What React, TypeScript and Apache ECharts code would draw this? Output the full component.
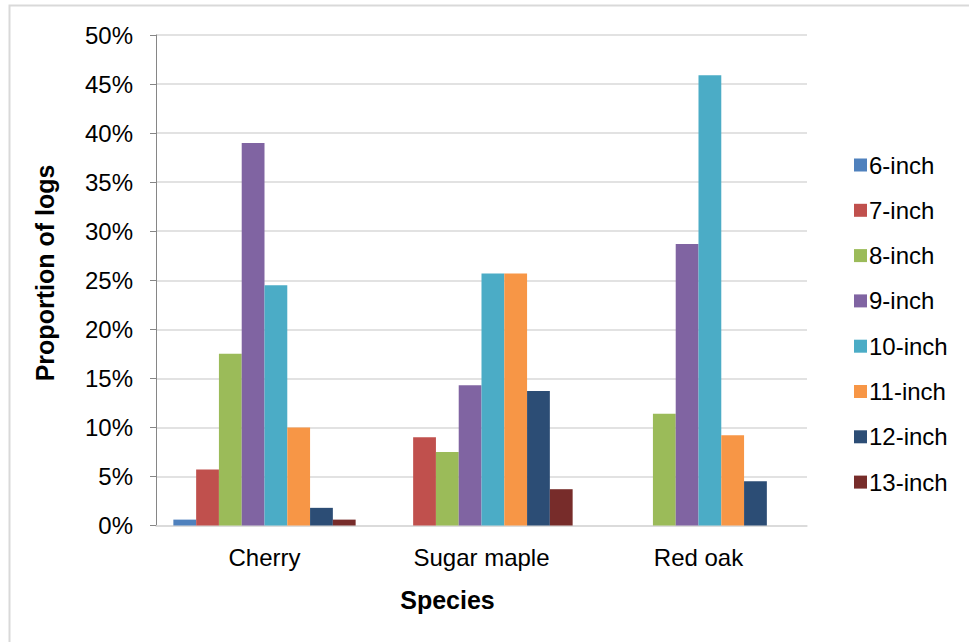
import React, { useEffect, useRef } from "react";
import * as echarts from "echarts";

// Tree species on the category axis
const species = ["Cherry", "Sugar maple", "Red oak"];

// Log diameter classes (one series each)
const sizeClasses = [
  "6-inch",
  "7-inch",
  "8-inch",
  "9-inch",
  "10-inch",
  "11-inch",
  "12-inch",
  "13-inch",
];

// Proportion of logs (%) per species, in the order of `species`
const inch6 = [0.6, 0, 0];
const inch7 = [5.7, 9.0, 0];
const inch8 = [17.5, 7.5, 11.4];
const inch9 = [39.0, 14.3, 28.7];
const inch10 = [24.5, 25.7, 45.9];
const inch11 = [10.0, 25.7, 9.2];
const inch12 = [1.8, 13.7, 4.5];
const inch13 = [0.6, 3.7, 0];

const seriesValues = [inch6, inch7, inch8, inch9, inch10, inch11, inch12, inch13];

const palette = [
  "#4F81BD",
  "#C0504D",
  "#9BBB59",
  "#8064A2",
  "#4BACC6",
  "#F79646",
  "#2C4D75",
  "#772C2A",
];

const FONT = "'Liberation Sans', Arial, sans-serif";

export default function App() {
  const ref = useRef<HTMLDivElement>(null);

  useEffect(() => {
    if (!ref.current) return;
    const chart = echarts.init(ref.current, undefined, { renderer: "svg" });

    chart.setOption({
      animation: false,
      backgroundColor: "#ffffff",
      color: palette,
      textStyle: { fontFamily: FONT, color: "#000" },
      grid: { left: 156, right: 162, top: 35, bottom: 116.5, containLabel: false },
      legend: {
        orient: "vertical",
        left: 849,
        top: 148,
        itemWidth: 13,
        itemHeight: 13,
        itemGap: 21.3,
        icon: "rect",
        textStyle: { fontFamily: FONT, fontSize: 24, color: "#000", padding: [0, 0, 0, -3] },
        data: sizeClasses,
      },
      xAxis: {
        type: "category",
        data: species,
        axisLine: { show: true, lineStyle: { color: "#d9d9d9", width: 1.5 } },
        axisTick: { show: false },
        axisLabel: { fontFamily: FONT, fontSize: 24, color: "#000", margin: 20 },
      },
      yAxis: {
        type: "value",
        min: 0,
        max: 50,
        interval: 5,
        axisLine: { show: true, lineStyle: { color: "#868686", width: 1 } },
        axisTick: { show: true, length: 6, lineStyle: { color: "#868686" } },
        axisLabel: {
          fontFamily: FONT,
          fontSize: 24,
          color: "#000",
          margin: 23,
          formatter: "{value}%",
        },
        splitLine: { show: true, lineStyle: { color: "#d9d9d9", width: 1.5 } },
      },
      graphic: [
        {
          type: "rect",
          silent: true,
          shape: { x: 9.5, y: 5.5, width: 1000, height: 700 },
          style: { fill: "none", stroke: "#d9d9d9", lineWidth: 2 },
          z: 100,
        },
        {
          type: "text",
          x: 45,
          y: 273,
          rotation: Math.PI / 2,
          style: {
            text: "Proportion of logs",
            fontFamily: FONT,
            fontSize: 25,
            fontWeight: "bold",
            fill: "#000",
            align: "center",
            verticalAlign: "middle",
          },
        },
        {
          type: "text",
          x: 447.5,
          y: 600,
          style: {
            text: "Species",
            fontFamily: FONT,
            fontSize: 25,
            fontWeight: "bold",
            fill: "#000",
            align: "center",
            verticalAlign: "middle",
          },
        },
      ],
      series: sizeClasses.map((name, i) => ({
        name,
        type: "bar",
        data: seriesValues[i],
        barGap: "0%",
        barCategoryGap: "16%",
        itemStyle: { color: palette[i] },
      })),
    });

    return () => chart.dispose();
  }, []);

  return (
    <div
      ref={ref}
      style={{ position: "fixed", left: 0, top: 0, width: 969, height: 642 }}
    />
  );
}
